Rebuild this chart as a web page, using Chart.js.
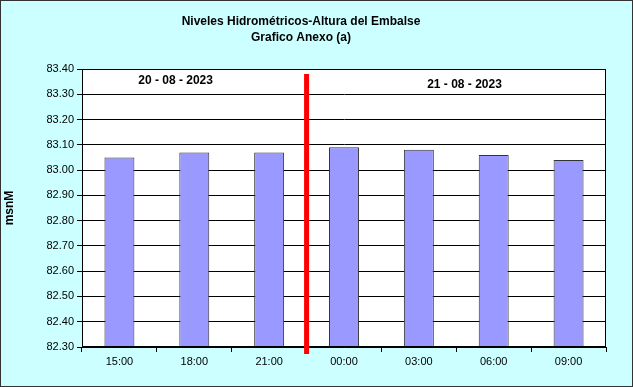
<!DOCTYPE html>
<html>
<head>
<meta charset="utf-8">
<script src="https://cdn.jsdelivr.net/npm/chart.js@4/dist/chart.umd.min.js"></script>
<style>
  html, body { margin: 0; padding: 0; background: #fff; }
  #frame { position: relative; width: 633px; height: 387px; box-sizing: border-box; border: 1px solid #333; background: #ccffff; }
  #levelChart { display: block; }
</style>
</head>
<body>
<div id="frame"><canvas id="levelChart" width="631" height="385"></canvas></div>
<script>
const hours = ["15:00", "18:00", "21:00", "00:00", "03:00", "06:00", "09:00"];
const levels = [83.05, 83.07, 83.07, 83.09, 83.08, 83.06, 83.04];
const titleLines = ["Niveles Hidrométricos-Altura del Embalse", "Grafico Anexo (a)"];
const dayLabels = ["20 - 08 - 2023", "21 - 08 - 2023"];
const dayLabelX = [0.75, 4.61];
const dayLabelY = [83.353, 83.337];
const dayBreakX = 2.5;
const dayBreakY = [83.38, 82.272];
const yMin = 82.30, yMax = 83.40;

const decor = {
  id: "decor",
  beforeDraw(chart) {
    const {ctx, chartArea: a} = chart;
    ctx.save();
    ctx.fillStyle = "#ffffff";
    ctx.fillRect(a.left, a.top, a.right - a.left, a.bottom - a.top);
    ctx.restore();
  },
  afterDatasetsDraw(chart) {
    const {ctx, chartArea: a, scales} = chart;
    ctx.save();
    // plot frame
    ctx.strokeStyle = "#000";
    ctx.lineWidth = 1;
    ctx.strokeRect(a.left + 0.5, a.top + 0.5, a.right - a.left - 1, a.bottom - a.top - 1);
    // day break
    const bx = scales.x.getPixelForValue(dayBreakX);
    ctx.strokeStyle = "#ff0000";
    ctx.lineWidth = 5;
    ctx.beginPath();
    ctx.moveTo(bx, scales.y.getPixelForValue(dayBreakY[0]));
    ctx.lineTo(bx, scales.y.getPixelForValue(dayBreakY[1]));
    ctx.stroke();
    // day labels
    ctx.fillStyle = "#000";
    ctx.font = "bold 12px 'Liberation Sans', Arial, sans-serif";
    ctx.textAlign = "center";
    ctx.textBaseline = "middle";
    dayLabels.forEach((t, i) => {
      ctx.fillText(t, scales.x.getPixelForValue(dayLabelX[i]), scales.y.getPixelForValue(dayLabelY[i]));
    });
    // titles
    ctx.fillText(titleLines[0], 300, 21);
    ctx.fillText(titleLines[1], 300, 37);
    ctx.restore();
  }
};

new Chart(document.getElementById("levelChart"), {
  type: "bar",
  data: {labels: hours, datasets: [{label: "msnM", data: levels, backgroundColor: "#9999ff", borderColor: "#333333", borderWidth: 1, barPercentage: 0.4, categoryPercentage: 1.0}]},
  options: {
    responsive: false, animation: false,
    layout: {padding: {top: 68, right: 26, bottom: 0, left: 0}},
    plugins: {legend: {display: false}, tooltip: {enabled: false}},
    scales: {
      x: {
        grid: {display: true, drawOnChartArea: false, drawTicks: true, tickLength: 5, color: "#000", offset: true},
        border: {color: "#000"},
        ticks: {color: "#000", padding: 3, font: {family: "'Liberation Sans', Arial, sans-serif", size: 11}, maxRotation: 0},
        afterFit(s) { s.height = 39; }
      },
      y: {
        min: yMin, max: yMax,
        grid: {color: "#000", tickLength: 5},
        border: {color: "#000"},
        ticks: {stepSize: 0.1, color: "#000", padding: 3, font: {family: "'Liberation Sans', Arial, sans-serif", size: 11}, callback: v => Number(v).toFixed(2)},
        title: {display: true, text: "msnM", color: "#000", font: {family: "'Liberation Sans', Arial, sans-serif", size: 12, weight: "bold"}, padding: {top: 1, bottom: 0}},
        afterFit(s) { s.width = 81; }
      }
    }
  },
  plugins: [decor]
});
</script>
</body>
</html>
